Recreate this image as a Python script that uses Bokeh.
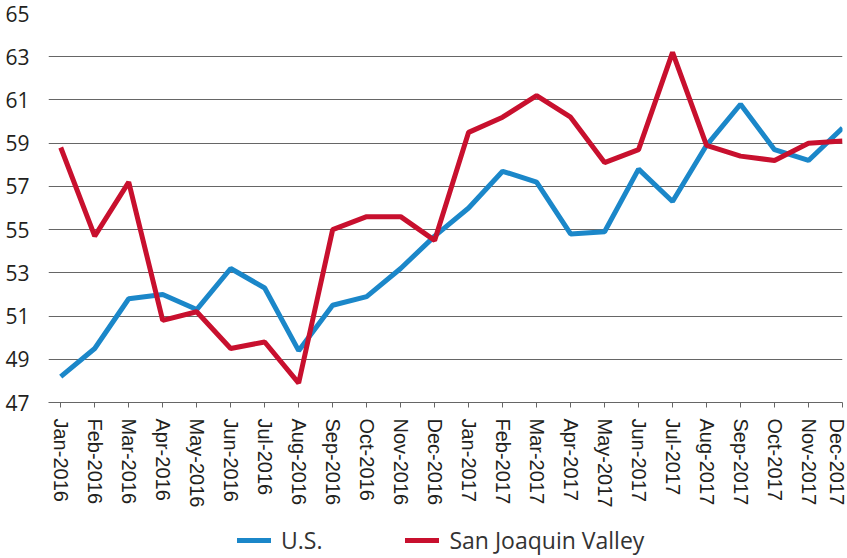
from bokeh.plotting import figure
from bokeh.models import Range1d, FixedTicker, Legend, LegendItem, ColumnDataSource
from bokeh.layouts import column
from bokeh.embed import file_html
from bokeh.resources import INLINE

months = ["Jan-2016", "Feb-2016", "Mar-2016", "Apr-2016", "May-2016", "Jun-2016",
          "Jul-2016", "Aug-2016", "Sep-2016", "Oct-2016", "Nov-2016", "Dec-2016",
          "Jan-2017", "Feb-2017", "Mar-2017", "Apr-2017", "May-2017", "Jun-2017",
          "Jul-2017", "Aug-2017", "Sep-2017", "Oct-2017", "Nov-2017", "Dec-2017"]
us = [48.2, 49.5, 51.8, 52.0, 51.3, 53.2, 52.3, 49.4, 51.5, 51.9, 53.2, 54.7,
      56.0, 57.7, 57.2, 54.8, 54.9, 57.8, 56.3, 58.9, 60.8, 58.7, 58.2, 59.7]
sjv = [58.8, 54.7, 57.2, 50.8, 51.2, 49.5, 49.8, 47.9, 55.0, 55.6, 55.6, 54.5,
       59.5, 60.2, 61.2, 60.2, 58.1, 58.7, 63.2, 58.9, 58.4, 58.2, 59.0, 59.1]
y_ticks = [47, 49, 51, 53, 55, 57, 59, 61, 63, 65]
series_names = ["U.S.", "San Joaquin Valley"]
series_colors = ["#1b87c9", "#c8102e"]

idx = list(range(len(months)))
src = ColumnDataSource(dict(x=idx, us=us, sjv=sjv))

p = figure(width=847, height=510, output_backend="svg", toolbar_location=None,
           x_range=Range1d(-0.36, len(months) - 1), y_range=Range1d(y_ticks[0], y_ticks[-1]),
           min_border_left=48, min_border_right=5, min_border_top=13, min_border_bottom=108)
p.outline_line_color = None
p.background_fill_color = "white"
p.border_fill_color = "white"

r_us = p.line("x", "us", source=src, line_color=series_colors[0], line_width=5)
r_sjv = p.line("x", "sjv", source=src, line_color=series_colors[1], line_width=5)

# x axis
xa = p.xaxis[0]
xa.ticker = FixedTicker(ticks=idx)
xa.major_label_overrides = {i: m for i, m in zip(idx, months)}
xa.major_label_orientation = "vertical"
xa.major_label_text_font = "Liberation Sans"
xa.major_label_text_font_size = "20px"
xa.major_label_text_color = "#231f20"
xa.major_label_standoff = 11
xa.major_tick_out = 5
xa.major_tick_in = 0
xa.minor_tick_line_color = None
xa.axis_line_color = "#666666"
xa.major_tick_line_color = "#666666"
xa.axis_line_width = 1.2

# y axis
ya = p.yaxis[0]
ya.ticker = FixedTicker(ticks=y_ticks)
ya.axis_line_color = None
ya.major_tick_line_color = None
ya.minor_tick_line_color = None
ya.major_label_text_font = "Open Sans"
ya.major_label_text_font_size = "21px"
ya.major_label_text_color = "#231f20"
ya.major_label_standoff = 13

p.xgrid.grid_line_color = None
p.ygrid.ticker = FixedTicker(ticks=y_ticks)
p.ygrid.grid_line_color = "#666666"
p.ygrid.grid_line_width = 1.2

# legend strip below the chart (series re-drawn out of its view, only as legend keys)
lg = figure(width=847, height=48, output_backend="svg", toolbar_location=None,
            x_axis_location=None, y_axis_location=None, min_border=0,
            min_border_left=0, min_border_right=0, min_border_top=0, min_border_bottom=0,
            x_range=Range1d(0, 1), y_range=Range1d(0, 1))
lg.outline_line_color = None
lg.grid.visible = False
k_us = lg.line("x", "us", source=src, line_color=series_colors[0], line_width=5, line_cap="round")
k_sjv = lg.line("x", "sjv", source=src, line_color=series_colors[1], line_width=5, line_cap="round")
legend = Legend(items=[LegendItem(label=series_names[0], renderers=[k_us]),
                       LegendItem(label=series_names[1], renderers=[k_sjv])],
                orientation="horizontal", location=(189, 2),
                border_line_color=None, background_fill_alpha=0,
                label_text_font="Open Sans", label_text_font_size="23px",
                label_text_color="#333333", glyph_width=34, glyph_height=28,
                label_height=28, label_standoff=10, spacing=83, padding=0, margin=0)
lg.add_layout(legend, "center")

layout = column(p, lg, spacing=0)
open("out.html", "w").write(file_html(layout, INLINE))
